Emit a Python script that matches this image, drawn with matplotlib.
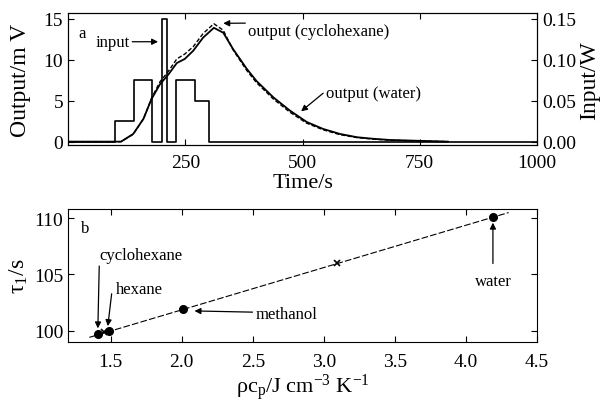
import matplotlib
matplotlib.use("Agg")
import matplotlib.pyplot as plt

plt.rcParams['font.family'] = ['Liberation Serif', 'DejaVu Serif']
plt.rcParams['mathtext.fontset'] = 'custom'
plt.rcParams['mathtext.rm'] = 'Liberation Serif'
plt.rcParams['mathtext.it'] = 'Liberation Serif:italic'

# panel a: heater input (W) and thermopile output (mV)
input_t = [0, 100, 140, 180, 200, 210, 230, 270, 300, 1000]
input_w = [0, 0.025, 0.075, 0, 0.15, 0, 0.075, 0.05, 0, 0]

out_t = [0, 113, 139, 161, 178, 196, 214, 232, 249, 267, 288, 311, 331, 352,
         381, 402, 438, 473, 509, 544, 580, 616, 651, 687, 750, 810]
water_mv = [0, 0, 0.94, 2.8, 5.2, 7.0, 8.2, 9.6, 10.1, 11.1, 12.7, 13.9, 13.3, 11.3,
            8.9, 7.4, 5.4, 3.8, 2.4, 1.55, 0.94, 0.54, 0.35, 0.2, 0.1, 0.0]
cyclohexane_mv = [0, 0, 0.9, 2.8, 5.3, 7.3, 8.6, 10.1, 10.7, 11.6, 13.2, 14.4, 13.6, 11.2,
                  8.7, 7.2, 5.2, 3.6, 2.25, 1.45, 0.85, 0.5, 0.3, 0.18, 0.08, 0.0]

# panel b: tau_1 against volumetric heat capacity
liquids = ['cyclohexane', 'hexane', 'methanol', 'water']
rho_cp = [1.41, 1.49, 2.01, 4.19]
tau1 = [99.7, 100.0, 101.9, 110.1]
cross_x = [1.45, 3.09]
cross_y = [99.85, 106.0]
fit_x = [1.35, 4.30]
fit_y = [99.4, 110.5]

fig = plt.figure(figsize=(6.02, 4.02), dpi=100)
ax1 = fig.add_axes([0.113, 0.636, 0.779, 0.329])
ax2 = ax1.twinx()

ax1.plot(out_t, water_mv, color='black', lw=1.3)
ax1.plot(out_t, cyclohexane_mv, color='black', lw=1.0, ls=(0, (3, 1.5)))
ax2.plot(input_t, input_w, color='black', lw=1.2, drawstyle='steps-post')

ax1.set_xlim(0, 1000)
ax1.set_ylim(-0.45, 15.7)
ax2.set_ylim(-0.0045, 0.157)
ax1.set_xticks([250, 500, 750, 1000])
ax1.set_yticks([0, 5, 10, 15])
ax2.set_yticks([0, 0.05, 0.10, 0.15])
ax2.set_yticklabels(['0.00', '0.05', '0.10', '0.15'])
ax1.tick_params(direction='in', top=True, right=False, labelsize=14, length=4)
ax1.tick_params(axis='x', pad=6)
ax2.tick_params(direction='in', labelsize=14, length=4)
ax1.set_xlabel('Time/s', fontsize=16, labelpad=2)
ax1.set_ylabel('Output/m V', fontsize=17, labelpad=9)
ax2.set_ylabel('Input/W', fontsize=17, labelpad=2)

arrow = dict(arrowstyle='-|>', color='black', lw=0.9, mutation_scale=9, shrinkA=0, shrinkB=0)
ax1.text(22, 13.3, 'a', fontsize=12, va='center')
ax1.annotate('input', xy=(192, 12.2), xytext=(58, 12.2), fontsize=12, va='center',
             arrowprops=arrow)
ax1.annotate('output (cyclohexane)', xy=(331, 14.45), xytext=(384, 13.5), fontsize=12,
             va='center', arrowprops=dict(arrow, relpos=(0.03, 1.0)))
ax1.annotate('output (water)', xy=(497, 3.7), xytext=(550, 6.0), fontsize=12,
             va='center', arrowprops=dict(arrow, relpos=(0, 0.6)))

ax = fig.add_axes([0.113, 0.146, 0.779, 0.332])
ax.plot(fit_x, fit_y, color='black', lw=0.8, ls=(0, (6, 2)))
ax.plot(rho_cp, tau1, 'o', color='black', ms=5.5)
ax.plot(cross_x, cross_y, 'x', color='black', ms=5, mew=1.2)
ax.set_xlim(1.2, 4.5)
ax.set_ylim(98.96, 110.83)
ax.set_xticks([1.5, 2.0, 2.5, 3.0, 3.5, 4.0, 4.5])
ax.set_xticklabels(['1.5', '2.0', '2.5', '3.0', '3.5', '4.0', '4.5'])
ax.set_yticks([100, 105, 110])
ax.tick_params(direction='in', top=True, right=True, labelsize=14, length=4)
ax.tick_params(axis='x', pad=8)
ax.set_xlabel(r'$\mathrm{\rho c_p}$/J cm$^{-3}$ K$^{-1}$', fontsize=16)
ax.xaxis.label.set_verticalalignment('baseline')
ax.xaxis.set_label_coords(0.5, -0.37)
ax.set_ylabel(r'$\mathrm{\tau_1}$/s', fontsize=17, labelpad=3)

ax.text(1.29, 109.1, 'b', fontsize=12, va='center')
ax.annotate(liquids[0], xy=(1.41, 100.2), xytext=(1.42, 106.7), fontsize=12,
            va='center', arrowprops=dict(arrow, relpos=(0, 0)))
ax.annotate(liquids[1], xy=(1.48, 100.4), xytext=(1.54, 103.7), fontsize=12,
            va='center', arrowprops=dict(arrow, relpos=(-0.1, 0.2)))
ax.annotate(liquids[2], xy=(2.09, 101.75), xytext=(2.52, 101.5), fontsize=12,
            va='center', arrowprops=dict(arrow, relpos=(-0.05, 0.6)))
ax.annotate(liquids[3], xy=(4.19, 109.6), xytext=(4.19, 104.4), fontsize=12,
            va='center', ha='center', arrowprops=dict(arrow, relpos=(0.5, 1.6)))

fig.savefig('out.png', dpi=100)
